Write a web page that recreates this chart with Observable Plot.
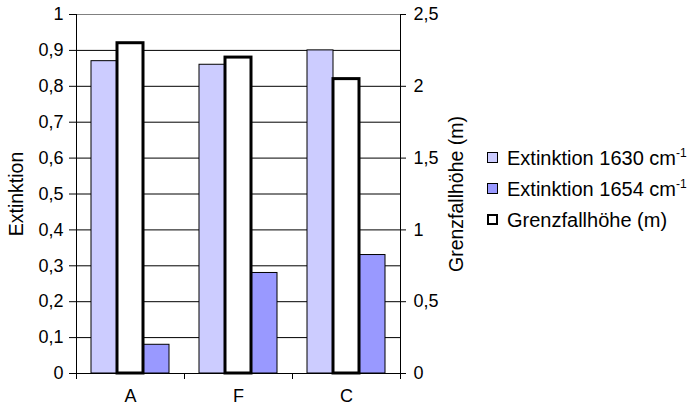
<!DOCTYPE html>
<html><head><meta charset="utf-8">
<script src="https://cdn.jsdelivr.net/npm/d3@7"></script>
<script src="https://cdn.jsdelivr.net/npm/@observablehq/plot@0.6"></script>
<style>
body{margin:0;background:#fff;font-family:"Liberation Sans",Arial,sans-serif;}
#wrap{position:relative;width:697px;height:407px;overflow:hidden;}
#legend{position:absolute;left:487px;top:142px;font-size:20px;color:#000;line-height:1;}
.row{display:flex;align-items:center;height:31px;white-space:nowrap;}
.sw{width:11px;height:11px;border:1px solid #000;margin-right:9px;box-sizing:border-box;flex:none;}
sup{font-size:12px;vertical-align:8px;line-height:0;}
</style></head><body><div id="wrap"><div id="legend"></div></div>
<script>
const categories = ["A", "F", "C"];
const ext1630 = [0.87, 0.86, 0.90];
const grenz = [2.30, 2.20, 2.05];
const ext1654 = [0.08, 0.28, 0.33];
const seriesKeys = ["e1630", "grenz", "e1654"];
const seriesLabels = ["Extinktion 1630 cm<sup>-1</sup>", "Extinktion 1654 cm<sup>-1</sup>", "Grenzfallhöhe (m)"];
const seriesColors = {e1630: "#ccccff", grenz: "#ffffff", e1654: "#9999ff"};
const leftTicks = [0, 0.1, 0.2, 0.3, 0.4, 0.5, 0.6, 0.7, 0.8, 0.9, 1];
const leftTickLabels = ["0", "0,1", "0,2", "0,3", "0,4", "0,5", "0,6", "0,7", "0,8", "0,9", "1"];
const rightTicks = [0, 0.5, 1, 1.5, 2, 2.5];
const rightTickLabels = ["0", "0,5", "1", "1,5", "2", "2,5"];
const rightMax = 2.5;

const W = 697, H = 407, mL = 75, mR = 297, mT = 14, mB = 34;
const plotH = H - mT - mB;

const rows = [];
categories.forEach((c, i) => {
  rows.push({cat: c, series: "e1630", value: ext1630[i]});
  rows.push({cat: c, series: "grenz", value: grenz[i] / rightMax});
  rows.push({cat: c, series: "e1654", value: ext1654[i]});
});

const chart = Plot.plot({
  width: W, height: H,
  marginLeft: mL, marginRight: mR, marginTop: mT, marginBottom: mB,
  style: {fontFamily: "'Liberation Sans', Arial, sans-serif", fontSize: "18px", color: "#000", background: "#fff", overflow: "visible"},
  fx: {domain: categories, padding: 0},
  x: {domain: seriesKeys, paddingInner: 0, paddingOuter: 0.545, axis: null},
  y: {domain: [0, 1]},
  marks: [
    Plot.ruleY(leftTicks.slice(0, -1), {stroke: "#000", strokeWidth: 1}),
    Plot.ruleY([1], {stroke: "#808080", strokeWidth: 1}),
    Plot.barY(rows.filter(d => d.series !== "grenz"), {
      fx: "cat", x: "series", y: "value",
      fill: d => seriesColors[d.series], stroke: "#000", strokeWidth: 1
    }),
    Plot.barY(rows.filter(d => d.series === "grenz"), {
      fx: "cat", x: "series", y: "value",
      fill: d => seriesColors[d.series], stroke: "#000", strokeWidth: 3
    }),
    Plot.frame({anchor: "left", facetAnchor: "left", stroke: "#000"}),
    Plot.frame({anchor: "right", facetAnchor: "right", stroke: "#000"}),
    Plot.frame({anchor: "left", insetTop: plotH, insetBottom: -5, stroke: "#000"}),
    Plot.frame({anchor: "right", facetAnchor: "right", insetTop: plotH, insetBottom: -5, stroke: "#000"}),
    Plot.axisY({
      anchor: "left", ticks: leftTicks,
      tickFormat: d => leftTickLabels[leftTicks.indexOf(d)],
      tickSize: 7, tickPadding: 6, fontSize: 18,
      label: "Extinktion", labelAnchor: "center", labelOffset: 67, labelArrow: false
    }),
    Plot.axisY({
      anchor: "right", ticks: rightTicks.map(v => v / rightMax),
      tickFormat: d => rightTickLabels[rightTicks.findIndex(v => Math.abs(v / rightMax - d) < 1e-9)],
      tickSize: 5, tickPadding: 8, fontSize: 18,
      label: "Grenzfallhöhe (m)", labelAnchor: "center", labelOffset: 62, labelArrow: false
    }),
    Plot.axisFx({anchor: "bottom", tickSize: 0, tickPadding: 16, fontSize: 18, label: null})
  ]
});
document.getElementById("wrap").prepend(chart);
chart.querySelectorAll("[aria-label='y-axis label'] text, g[aria-label='y-axis label']").forEach(el => el.style.fontSize = "19.5px");

const legendOrder = ["e1630", "e1654", "grenz"];
const legend = d3.select("#legend");
legendOrder.forEach((k, i) => {
  const row = legend.append("div").attr("class", "row");
  row.append("div").attr("class", "sw")
    .style("background", seriesColors[k])
    .style("border-width", k === "grenz" ? "2px" : "1px");
  row.append("span").html(seriesLabels[i]);
});
</script>
</body></html>
